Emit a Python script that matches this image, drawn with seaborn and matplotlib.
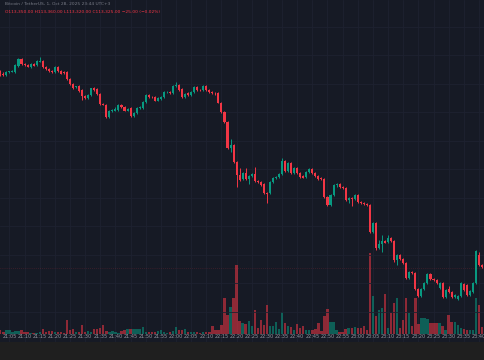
import matplotlib
matplotlib.use("Agg")
import matplotlib.pyplot as plt
import seaborn as sns
import numpy as np
import pandas as pd

# 1-minute candles, 21:02 -> 23:42
opens = [115290, 115260, 115250, 115280, 115285, 115280, 115340, 115410, 115360, 115350,
         115330, 115360, 115350, 115385, 115390, 115330, 115310, 115290, 115280, 115330,
         115290, 115280, 115280, 115210, 115160, 115130, 115140, 115100, 115040, 115020,
         115050, 115120, 115110, 115060, 114960, 114950, 114830, 114890, 114895, 114900,
         114950, 114930, 114895, 114920, 114840, 114870, 114920, 114920, 114980, 115050,
         115030, 115030, 114995, 115010, 115030, 115077, 115080, 115070, 115140, 115150,
         115110, 115030, 115070, 115050, 115080, 115130, 115100, 115100, 115140, 115100,
         115080, 115070, 115070, 114975, 114880, 114780, 114520, 114550, 114380, 114250,
         114210, 114270, 114210, 114240, 114260, 114190, 114180, 114160, 114070, 114070,
         114180, 114220, 114230, 114260, 114390, 114290, 114370, 114270, 114320, 114270,
         114240, 114230, 114280, 114310, 114270, 114240, 114215, 114210, 114030, 113950,
         114050, 114150, 114160, 114130, 114120, 114000, 114020, 114010, 114050, 113980,
         113970, 113965, 113950, 113680, 113770, 113520, 113560, 113590, 113580, 113620,
         113590, 113400, 113450, 113410, 113370, 113220, 113280, 113270, 113110, 113040,
         113110, 113170, 113260, 113210, 113200, 113120, 113170, 113030, 113110, 113080,
         113030, 113010, 113040, 113160, 113150, 113050, 113080, 113170, 113450, 113350,
         113330]
closes = [115260, 115255, 115280, 115285, 115290, 115350, 115410, 115360, 115350, 115335,
          115360, 115345, 115390, 115390, 115330, 115310, 115290, 115280, 115330, 115290,
          115265, 115270, 115210, 115160, 115120, 115135, 115090, 115040, 115020, 115050,
          115120, 115100, 115060, 114960, 114955, 114830, 114890, 114895, 114915, 114950,
          114930, 114895, 114915, 114840, 114870, 114920, 114930, 114980, 115050, 115030,
          115027, 114995, 115020, 115030, 115080, 115080, 115067, 115140, 115145, 115100,
          115030, 115060, 115050, 115080, 115130, 115100, 115097, 115140, 115100, 115080,
          115070, 115067, 114975, 114880, 114780, 114520, 114550, 114380, 114250, 114200,
          114270, 114210, 114240, 114260, 114190, 114180, 114150, 114070, 114060, 114180,
          114220, 114230, 114260, 114390, 114290, 114370, 114270, 114320, 114270, 114230,
          114225, 114280, 114310, 114270, 114240, 114210, 114210, 114030, 113950, 114050,
          114150, 114160, 114130, 114120, 114000, 114020, 114010, 114050, 113980, 113970,
          113965, 113950, 113680, 113770, 113520, 113560, 113590, 113575, 113620, 113590,
          113400, 113450, 113410, 113370, 113220, 113280, 113270, 113110, 113040, 113110,
          113170, 113260, 113210, 113200, 113170, 113170, 113030, 113100, 113080, 113030,
          113050, 113040, 113170, 113100, 113050, 113090, 113170, 113490, 113350, 113330,
          113325]
highs = [115300, 115280, 115290, 115290, 115300, 115360, 115420, 115420, 115370, 115360,
         115370, 115370, 115400, 115430, 115400, 115340, 115320, 115300, 115340, 115340,
         115300, 115290, 115290, 115220, 115170, 115140, 115150, 115110, 115050, 115060,
         115120, 115130, 115120, 115070, 114970, 114960, 114900, 114910, 114930, 114960,
         114960, 114940, 114920, 114930, 114880, 114930, 114940, 114990, 115060, 115060,
         115040, 115040, 115030, 115040, 115090, 115090, 115090, 115150, 115180, 115160,
         115120, 115070, 115080, 115090, 115140, 115140, 115110, 115150, 115150, 115110,
         115090, 115080, 115080, 114980, 114890, 114790, 114610, 114560, 114390, 114320,
         114280, 114320, 114250, 114270, 114330, 114200, 114190, 114170, 114080, 114190,
         114230, 114240, 114270, 114420, 114400, 114380, 114380, 114330, 114330, 114280,
         114250, 114290, 114320, 114320, 114280, 114250, 114230, 114220, 114040, 114060,
         114160, 114170, 114170, 114140, 114130, 114030, 114030, 114060, 114060, 113990,
         113980, 113970, 113960, 113780, 113780, 113600, 113650, 113600, 113650, 113630,
         113600, 113460, 113460, 113420, 113380, 113290, 113290, 113280, 113120, 113120,
         113180, 113270, 113270, 113220, 113210, 113180, 113180, 113110, 113140, 113090,
         113060, 113050, 113180, 113170, 113160, 113100, 113180, 113500, 113480, 113360,
         113340]
lows = [115240, 115240, 115240, 115270, 115280, 115270, 115330, 115350, 115340, 115330,
        115320, 115340, 115340, 115380, 115320, 115300, 115280, 115270, 115270, 115280,
        115260, 115260, 115200, 115150, 115110, 115120, 115080, 115000, 115010, 115010,
        115040, 115090, 115050, 114950, 114950, 114820, 114820, 114880, 114890, 114890,
        114920, 114890, 114890, 114830, 114830, 114860, 114910, 114910, 114970, 115020,
        115020, 114990, 114990, 115000, 115020, 115070, 115060, 115060, 115130, 115090,
        115020, 115020, 115040, 115040, 115070, 115090, 115090, 115090, 115090, 115070,
        115060, 115050, 114970, 114870, 114770, 114510, 114480, 114370, 114130, 114190,
        114200, 114200, 114160, 114230, 114180, 114170, 114140, 114060, 113970, 114060,
        114170, 114210, 114220, 114250, 114280, 114280, 114260, 114260, 114260, 114220,
        114220, 114220, 114270, 114260, 114230, 114200, 114200, 114020, 113940, 113940,
        114040, 114130, 114120, 114110, 113990, 113970, 113940, 114000, 113970, 113960,
        113950, 113940, 113670, 113670, 113500, 113510, 113480, 113570, 113570, 113580,
        113380, 113350, 113400, 113360, 113210, 113210, 113260, 113100, 113030, 113030,
        113100, 113160, 113200, 113190, 113160, 113110, 113020, 113020, 113070, 113020,
        113020, 113000, 113030, 113090, 113040, 113040, 113070, 113160, 113340, 113320,
        113320]
volumes = [3.7, 2.3, 3.7, 3.7, 2.3, 3.0, 3.0, 3.7, 2.0, 2.0,
           1.0, 1.0, 1.0, 1.7, 5.0, 2.3, 3.3, 3.3, 2.3, 2.3,
           2.3, 1.0, 13.7, 4.3, 5.0, 2.3, 2.3, 9.3, 2.3, 3.3,
           2.3, 5.0, 5.0, 6.0, 9.3, 3.3, 2.3, 2.7, 2.3, 1.0,
           2.7, 3.7, 5.0, 5.0, 5.0, 4.7, 5.0, 7.0, 2.3, 1.7,
           1.7, 2.3, 3.3, 4.3, 1.7, 1.0, 2.3, 3.3, 7.0, 3.7,
           4.3, 5.0, 1.7, 1.7, 2.3, 1.7, 1.0, 1.7, 2.0, 2.3,
           7.7, 4.3, 4.3, 9.3, 36.0, 19.0, 27.0, 36.0, 69.0, 12.7,
           11.0, 10.3, 12.7, 7.7, 24.3, 6.0, 14.3, 9.3, 29.3, 8.3,
           8.3, 11.7, 5.0, 21.7, 11.0, 8.3, 7.0, 4.3, 10.0, 6.0,
           8.3, 3.7, 3.7, 3.7, 5.0, 11.0, 3.3, 17.7, 25.0, 11.7,
           11.7, 3.7, 1.7, 2.3, 5.0, 6.0, 6.0, 7.0, 6.0, 6.0,
           7.7, 3.7, 81.0, 38.0, 18.0, 24.0, 26.0, 40.0, 6.0, 21.0,
           31.0, 36.0, 6.0, 14.0, 36.0, 21.0, 8.0, 36.0, 10.0, 16.0,
           16.0, 15.0, 11.0, 11.0, 11.0, 11.0, 8.0, 4.0, 19.0, 12.0,
           12.0, 9.0, 6.0, 5.0, 4.0, 4.0, 4.0, 36.0, 29.0, 7.0,
           7.0]
tick_labels = ["21:05", "21:10", "21:15", "21:20", "21:25", "21:30", "21:35", "21:40",
               "21:45", "21:50", "21:55", "22:00", "22:05", "22:10", "22:15", "22:20",
               "22:25", "22:30", "22:35", "22:40", "22:45", "22:50", "22:55", "23:00",
               "23:05", "23:10", "23:15", "23:20", "23:25", "23:30", "23:35", "23:40"]
tick_pos = [3 + 5 * k for k in range(len(tick_labels))]

df = pd.DataFrame({"open": opens, "high": highs, "low": lows,
                   "close": closes, "volume": volumes})
df["idx"] = np.arange(len(df))
df["dir"] = np.where(df["close"] >= df["open"], "up", "down")

UP = "#089981"
DOWN = "#f23645"
BG = "#161a25"
GRID = "#1e2230"

sns.set_theme(style="dark", rc={"axes.facecolor": BG, "figure.facecolor": "#1f1f1f"})

fig = plt.figure(figsize=(4.85, 3.6), dpi=100)
ax = fig.add_axes([0, 18 / 360, 1, 342 / 360])

# volume (behind candles)
sns.barplot(data=df, x="idx", y="volume", hue="dir", native_scale=True,
            palette={"up": UP, "down": DOWN}, dodge=False, width=0.78,
            alpha=0.55, legend=False, ax=ax, linewidth=0, saturation=1)
ax.set_ylim(-8, 334)
ax.set_xlim(-0.1, 160.0)
ax.set_xticks(tick_pos)
ax.set_xticklabels(tick_labels)
ax.tick_params(axis="x", direction="in", length=0, pad=-5.5, labelsize=3.6,
               colors="#9598a1")
ax.set_yticks([])
ax.set_xlabel("")
ax.set_ylabel("")
for t in tick_pos:
    ax.axvline(t, color=GRID, lw=0.6, zorder=0)

# candles
axp = ax.twinx()
axp.set_ylim(112580, 116000)
colors = [UP if d == "up" else DOWN for d in df["dir"]]
axp.vlines(df["idx"], df["low"], df["high"], colors=colors, lw=0.7)
body_bottom = np.minimum(df["open"], df["close"])
body_h = np.maximum(np.abs(df["close"] - df["open"]), 6)
axp.bar(df["idx"], body_h, bottom=body_bottom, width=0.68, color=colors, linewidth=0)
axp.axhline(df["close"].iloc[-1], color=DOWN, lw=0.5, ls=(0, (1, 2)), alpha=0.3)
axp.set_yticks([115735, 115450, 115165, 114880, 114595, 114310, 114025, 113740,
                113455, 113170, 112885])
axp.tick_params(axis="y", length=0, labelright=False, labelleft=False)
axp.grid(axis="y", color=GRID, lw=0.6)
axp.set_axisbelow(True)
axp.set_ylabel("")

for a in (ax, axp):
    for s in a.spines.values():
        s.set_visible(False)

fig.text(5 / 485, 1 - 4 / 360, "Bitcoin / TetherUS, 1, Oct 28, 2025 23:44 UTC+3",
         color="#787b86", fontsize=3.2, va="center")
fig.text(5 / 485, 1 - 12 / 360,
         "O113,350.00 H113,360.00 L113,320.00 C113,325.00 \u221225.00 (\u22120.02%)",
         color=DOWN, fontsize=3.2, va="center")

fig.savefig("out.png", dpi=100, facecolor=fig.get_facecolor())
